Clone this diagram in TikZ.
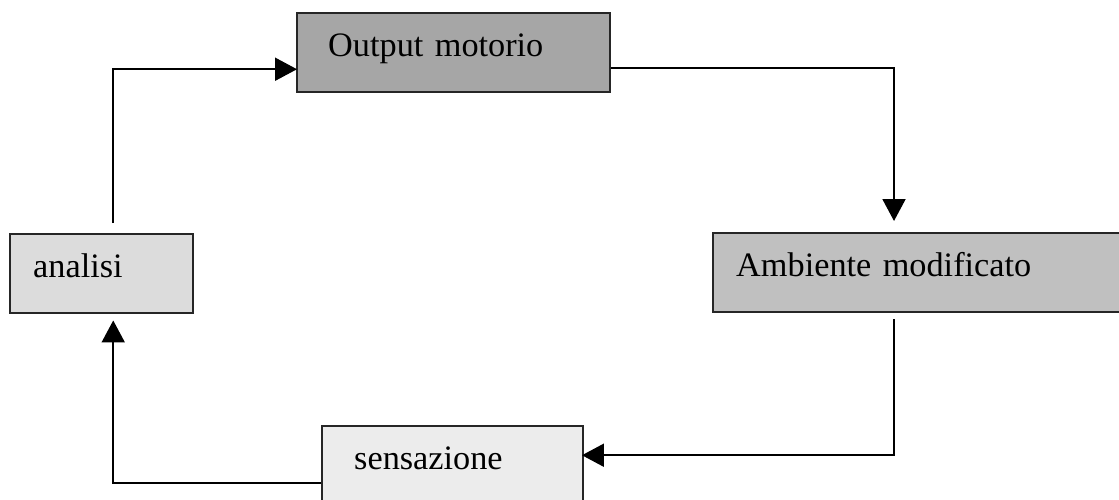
\documentclass[tikz,border=0pt]{standalone}
\usepackage{fontspec}
\setmainfont{Liberation Serif}
\usetikzlibrary{arrows.meta}
\definecolor{grigioA}{HTML}{A6A6A6}
\definecolor{grigioB}{HTML}{C0C0C0}
\definecolor{grigioC}{HTML}{DCDCDC}
\definecolor{grigioD}{HTML}{ECECEC}
\begin{document}
\begin{tikzpicture}[
		blocco/.style={draw=black!85, line width=1.4pt, rectangle, anchor=north west, minimum height=1.58cm, text height=0.5cm, text depth=0.36cm, align=left, font=\fontsize{19.5}{23}\selectfont},
		freccia/.style={line width=1.1pt, -{Triangle[length=0.44cm,width=0.46cm]}},
		linea/.style={line width=1.1pt}
	]
		\useasboundingbox (0,0) rectangle (22.38,9.98);
		\clip (0,0) rectangle (22.38,9.98);

		\node[blocco, fill=grigioA, inner xsep=0.62cm, text width=5.02cm] (output) at (5.92,9.74) {Output motorio};
		\node[blocco, fill=grigioB, inner xsep=0.46cm, text width=7.44cm] (ambiente) at (14.24,5.34) {Ambiente modificato};
		\node[blocco, fill=grigioC, inner xsep=0.46cm, text width=2.74cm] (analisi) at (0.18,5.32) {analisi};
		\node[blocco, fill=grigioD, inner xsep=0.64cm, text width=3.94cm] (sensazione) at (6.42,1.48) {sensazione};

		\draw[freccia] ([xshift=0.23cm,yshift=0.2cm]analisi.north) |- ([xshift=0.02cm,yshift=-0.33cm]output.west);
		\draw[freccia] ([yshift=-0.31cm]output.east) -| ([xshift=3.64cm,yshift=0.22cm]ambiente.north west);
		\draw[freccia] ([xshift=3.64cm,yshift=-0.12cm]ambiente.south west) |- ([xshift=-0.05cm,yshift=0.21cm]sensazione.east);
		\draw[freccia] ([yshift=-0.35cm]sensazione.west) -| ([xshift=0.23cm,yshift=-0.12cm]analisi.south);

	\end{tikzpicture}
\end{document}
